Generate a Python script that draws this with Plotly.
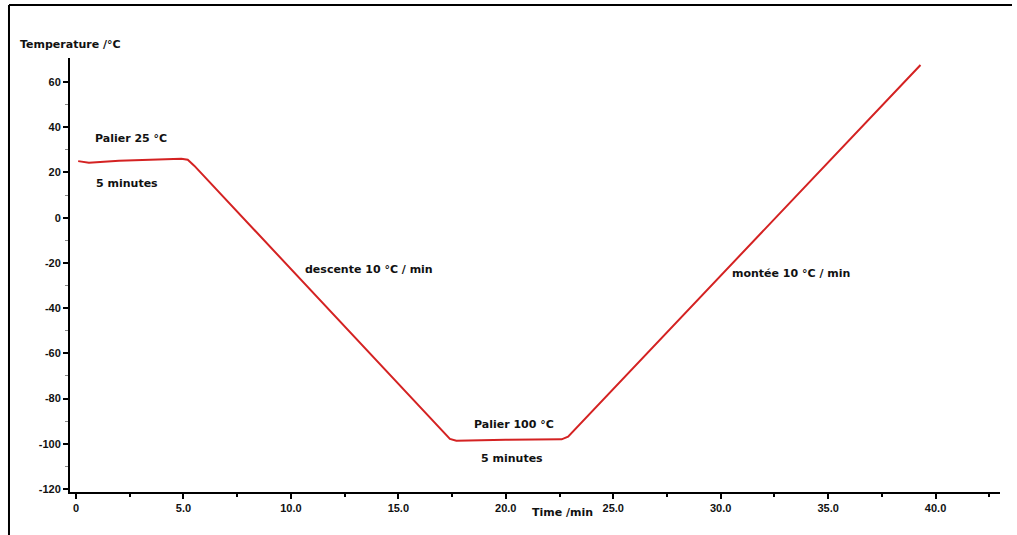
import plotly.graph_objects as go

# Data
time_min = [0.1, 0.6, 2.0, 3.5, 4.9, 5.2, 5.5, 17.4, 17.7, 20.0, 22.6, 22.9, 39.3]
temp_c = [25.0, 24.3, 25.2, 25.6, 26.0, 25.6, 23.0, -97.8, -98.6, -98.2, -98.0, -96.8, 67.5]

x_major = [0, 5, 10, 15, 20, 25, 30, 35, 40]
x_labels = ["0", "5.0", "10.0", "15.0", "20.0", "25.0", "30.0", "35.0", "40.0"]
x_minor = [2.5, 7.5, 12.5, 17.5, 22.5, 27.5, 32.5, 37.5, 42.5]
y_major = [-120, -100, -80, -60, -40, -20, 0, 20, 40, 60]
y_labels = ["-120", "-100", "-80", "-60", "-40", "-20", "0", "20", "40", "60"]
y_minor = [-110, -90, -70, -50, -30, -10, 10, 30, 50]

notes = [
    ("Palier 25 °C", 2.56, 34.8),
    ("5 minutes", 2.37, 14.9),
    ("descente 10 °C / min", 13.63, -23.1),
    ("montée 10 °C / min", 33.26, -24.5),
    ("Palier 100 °C", 20.37, -91.3),
    ("5 minutes", 20.28, -106.3),
]

FONT = "DejaVu Sans"
TFONT = "Liberation Sans"

fig = go.Figure()
fig.add_trace(go.Scatter(
    x=time_min, y=temp_c, mode="lines",
    line=dict(color="#d42222", width=2),
    hoverinfo="skip", showlegend=False,
))

for text, x, y in notes:
    fig.add_annotation(x=x, y=y, xref="x", yref="y", text="<b>%s</b>" % text,
                       showarrow=False, font=dict(family=FONT, size=11, color="#111"))

fig.add_annotation(x=22.65, y=-0.067, xref="x", yref="paper", text="<b>Time /min</b>",
                   showarrow=False, font=dict(family=FONT, size=11, color="#111"))
fig.add_annotation(x=-0.0559, y=1.0507, xref="paper", yref="paper", xanchor="left",
                   text="<b>Temperature /°C</b>", showarrow=False,
                   font=dict(family=FONT, size=11, color="#111"))

# outer frame (partially visible)
fig.add_shape(type="line", xref="paper", yref="paper", x0=-0.0656, x1=1.0129,
              y0=1.1221, y1=1.1221, line=dict(color="black", width=2))
fig.add_shape(type="line", xref="paper", yref="paper", x0=-0.0656, x1=-0.0656,
              y0=1.1221, y1=-0.12, line=dict(color="black", width=2))

fig.update_xaxes(
    range=[-0.28, 43.0], showline=True, linecolor="black", linewidth=2,
    showgrid=False, zeroline=False, tickmode="array", tickvals=x_major, ticktext=x_labels,
    ticks="outside", ticklen=5, tickwidth=2, tickcolor="black",
    minor=dict(tickmode="array", tickvals=x_minor, ticks="outside", ticklen=3,
               tickwidth=2, tickcolor="black", showgrid=False),
    tickfont=dict(family=TFONT, size=11, color="#111", weight="bold"),
)
fig.update_yaxes(
    range=[-121.3, 70.6], showline=True, linecolor="black", linewidth=2,
    showgrid=False, zeroline=False, tickmode="array", tickvals=y_major, ticktext=y_labels,
    ticks="outside", ticklen=5, tickwidth=2, tickcolor="black",
    minor=dict(tickmode="array", tickvals=y_minor, ticks="outside", ticklen=3,
               tickwidth=1, tickcolor="#888", showgrid=False),
    tickfont=dict(family=TFONT, size=11, color="#111", weight="bold"),
)
fig.update_layout(
    width=1017, height=535, autosize=False,
    margin=dict(l=70, r=17, t=58, b=43),
    paper_bgcolor="white", plot_bgcolor="white",
    font=dict(family=FONT),
)
fig.write_html("out.html", config={"displayModeBar": False},
               post_script="document.body.style.margin='0';document.body.style.overflow='hidden';")
